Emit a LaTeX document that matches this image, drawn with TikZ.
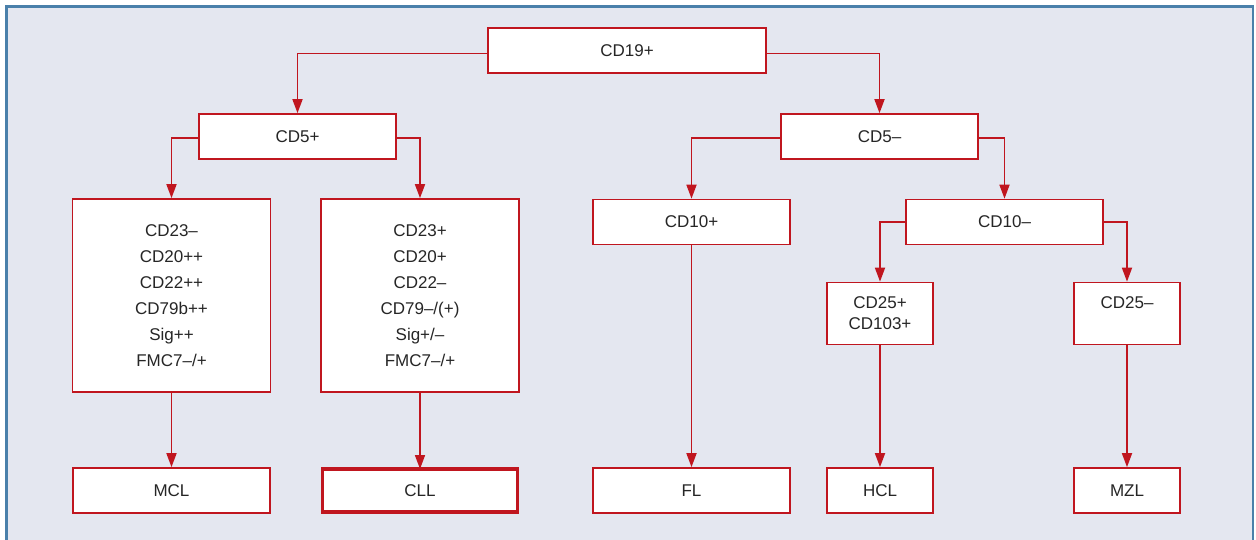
\documentclass[tikz,border=0pt]{standalone}
\usepackage{fontspec}
\setmainfont{Liberation Sans}
\usetikzlibrary{arrows.meta}
\definecolor{boxred}{HTML}{C0161F}
\definecolor{bgblue}{HTML}{E4E7F0}
\definecolor{frameblue}{HTML}{4A80AA}
\definecolor{txt}{HTML}{262626}
\begin{document}
\begin{tikzpicture}[x=1pt,y=-1pt,
  box/.style={draw=boxred,line width=1.7pt,fill=white,inner sep=0pt,
    text=txt,align=center,font=\fontsize{17}{26}\selectfont},
  wide/.style={box,minimum width=197pt,minimum height=45pt},
  narrow/.style={box,minimum width=106pt,minimum height=45pt},
  tall/.style={box,minimum width=198pt,minimum height=193pt},
  small/.style={box,minimum width=106pt,minimum height=62pt,font=\fontsize{17}{21}\selectfont},
  key/.style={wide,line width=3.4pt,minimum width=195pt,minimum height=43pt},
  conn/.style={draw=boxred,line width=1.7pt,-{Triangle[length=14pt,width=10pt]}}]
\useasboundingbox (0,0) rectangle (1256,539);
\fill[white] (0,0) rectangle (1256,539);
\draw[frameblue,line width=2.2pt,fill=bgblue] (6.5,6.5) rectangle (1253,570);

\node[box,minimum width=278pt,minimum height=45pt] (cd19) at (627,50.5) {CD19+};
\node[wide] (cd5p) at (297.5,136.5) {CD5+};
\node[wide] (cd5m) at (879.5,136.5) {CD5–};
\node[tall] (b1) at (171.5,295.5) {CD23–\\CD20++\\CD22++\\CD79b++\\Sig++\\FMC7–/+};
\node[tall] (b2) at (420,295.5) {CD23+\\CD20+\\CD22–\\CD79–/(+)\\Sig+/–\\FMC7–/+};
\node[wide] (cd10p) at (691.5,222) {CD10+};
\node[wide] (cd10m) at (1004.5,222) {CD10–};
\node[small] (cd25p) at (880,313.5) {CD25+\\CD103+};
\node[small] (cd25m) at (1127,313.5) {CD25–\\\phantom{CD103+}};
\node[wide] (mcl) at (171.5,490.5) {MCL};
\node[key] (cll) at (420,490.5) {CLL};
\node[wide] (fl) at (691.5,490.5) {FL};
\node[narrow] (hcl) at (880,490.5) {HCL};
\node[narrow] (mzl) at (1127,490.5) {MZL};

\draw[conn] ([yshift=-3pt]cd19.west) -| (cd5p.north);
\draw[conn] ([yshift=-3pt]cd19.east) -| (cd5m.north);
\draw[conn] ([yshift=-1.5pt]cd5p.west) -| (b1.north);
\draw[conn] ([yshift=-1.5pt]cd5p.east) -| (b2.north);
\draw[conn] ([yshift=-1.5pt]cd5m.west) -| (cd10p.north);
\draw[conn] ([yshift=-1.5pt]cd5m.east) -| (cd10m.north);
\draw[conn] (cd10m.west) -| (cd25p.north);
\draw[conn] (cd10m.east) -| (cd25m.north);
\draw[conn] (b1.south) -- (mcl.north);
\draw[conn] (b2.south) -- ([yshift=-1.7pt]cll.north);
\draw[conn] (cd10p.south) -- (fl.north);
\draw[conn] (cd25p.south) -- (hcl.north);
\draw[conn] (cd25m.south) -- (mzl.north);
\end{tikzpicture}
\end{document}
